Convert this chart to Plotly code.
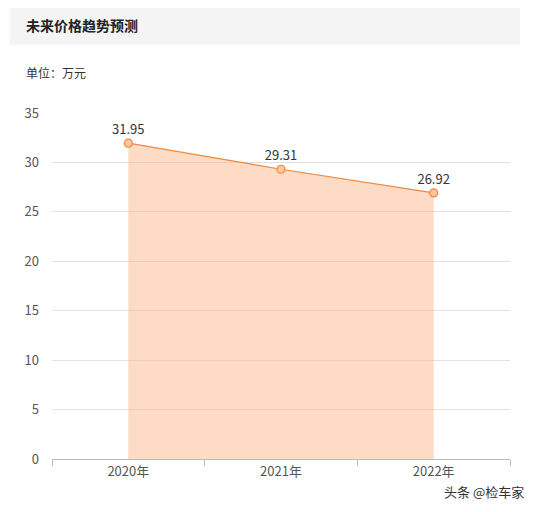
import plotly.graph_objects as go

years = ["2020年", "2021年", "2022年"]
prices = [31.95, 29.31, 26.92]
price_labels = ["31.95", "29.31", "26.92"]

fig = go.Figure()
fig.add_trace(go.Scatter(
    x=years, y=prices, mode="lines+markers+text",
    text=price_labels, textposition="top center",
    textfont=dict(size=13, color="#333"),
    fill="tozeroy", fillcolor="rgba(252,190,150,0.55)",
    line=dict(color="#f0883a", width=1.2),
    marker=dict(size=8, color="#fcc9a0", line=dict(color="#f0883a", width=1.2)),
    cliponaxis=False, showlegend=False,
))

font = "Noto Sans CJK SC"
fig.add_shape(type="rect", xref="paper", yref="paper",
              x0=-0.092, x1=1.022, y0=1.197, y1=1.31,
              fillcolor="#f4f4f4", line_width=0, layer="below")
fig.add_annotation(text="<b>未来价格趋势预测</b>", xref="paper", yref="paper",
                   x=-0.062, y=1.254, xanchor="left", yanchor="middle",
                   showarrow=False, font=dict(size=14, color="#222", family=font))
fig.add_annotation(text="单位：万元", xref="paper", yref="paper",
                   x=-0.062, y=1.116, xanchor="left", yanchor="middle",
                   showarrow=False, font=dict(size=12, color="#333", family=font))
fig.add_annotation(text="头条 @检车家", xref="paper", yref="paper",
                   x=1.035, y=-0.095, xanchor="right", yanchor="middle",
                   showarrow=False, font=dict(size=13, color="#333", family=font))

fig.update_layout(
    width=521, height=496,
    margin=dict(l=44, r=19, t=105, b=45),
    paper_bgcolor="white", plot_bgcolor="white",
    font=dict(family=font, color="#555", size=13),
    xaxis=dict(type="category", range=[-0.5, 2.5], showgrid=False,
               showline=True, linecolor="#bbb", ticks="outside",
               tickson="boundaries", tickcolor="#bbb", ticklen=6),
    yaxis=dict(range=[0, 35], dtick=5, showgrid=True, gridcolor="#e2e2e2",
               zeroline=False, ticks="", ticklabelstandoff=12),
)

fig.write_html("out.html")
